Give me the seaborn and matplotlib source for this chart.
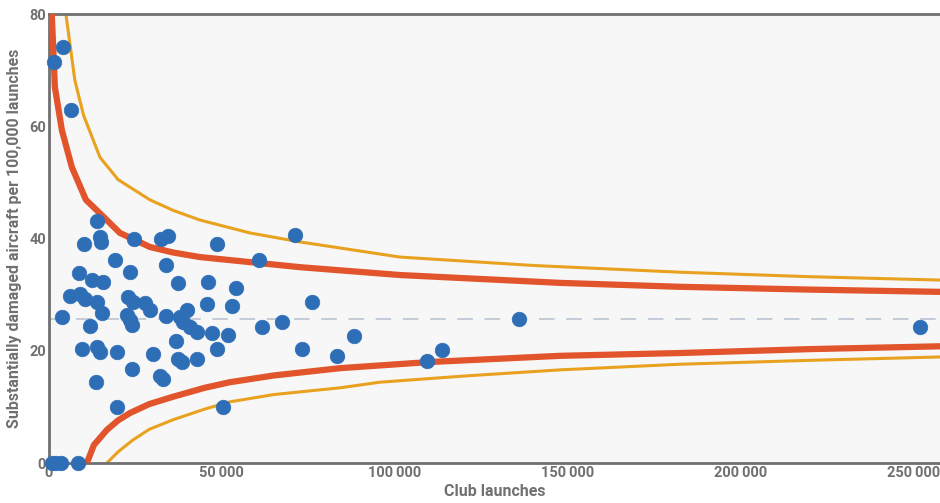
import numpy as np
import pandas as pd
import matplotlib.pyplot as plt
import matplotlib.ticker as mticker
import seaborn as sns

# club data: launches and damage rate per 100,000 launches
launches = [870, 2000, 3500, 8300,
            1450, 4140, 6260, 3660,
            13780, 10120, 14740, 14930, 24660, 32370, 34480, 48460,
            19080, 23410, 33720, 8670, 12330, 15510, 37190, 46050, 54050,
            6070, 8960, 10400, 13780, 15230, 11850,
            22930, 24370, 27750, 29190, 22450, 23410, 23890,
            33820, 37860, 39790, 38820, 40750, 42680, 45760, 52980,
            47020, 51820, 48650, 36610, 37380, 38340, 42680, 30150,
            9440, 13780, 14740, 19740, 23890, 32080, 33040, 13580,
            19560, 50200,
            71100, 60690, 75920, 67250, 61650, 88150, 73020, 83330,
            109150, 113490, 135930, 251730]
rate = [0, 0, 0, 0,
        71.5, 74.2, 62.9, 26.0,
        43.2, 39.1, 40.3, 39.4, 40.0, 40.0, 40.4, 39.1,
        36.2, 34.1, 35.3, 33.9, 32.6, 32.3, 32.0, 32.3, 31.2,
        29.8, 30.2, 29.3, 28.7, 26.7, 24.4,
        29.6, 28.7, 28.5, 27.3, 26.4, 25.5, 24.6,
        26.2, 26.1, 27.3, 25.2, 24.3, 23.4, 28.3, 28.0,
        23.2, 22.8, 20.4, 21.8, 18.6, 18.0, 18.6, 19.5,
        20.4, 20.7, 19.8, 19.8, 16.7, 15.5, 14.9, 14.5,
        10.0, 9.9,
        40.7, 36.2, 28.7, 25.1, 24.2, 22.6, 20.3, 19.1,
        18.2, 20.1, 25.6, 24.3]

mean_rate = 25.7

# control limits
upper_inner_x = [400, 870, 1730, 3760, 6650, 10700, 14740, 20520, 29190, 36000,
                 43640, 58090, 72540, 101450, 147700, 182370, 220000, 257500]
upper_inner_y = [95, 79.5, 67.0, 59.3, 52.7, 46.9, 44.5, 41.0, 38.5, 37.5,
                 36.7, 35.8, 34.9, 33.5, 32.1, 31.4, 30.9, 30.5]
upper_outer_x = [3500, 4910, 7510, 10000, 12720, 14740, 20000, 29190, 36000,
                 43640, 58090, 72540, 101450, 140000, 182370, 220000, 257500]
upper_outer_y = [90, 80, 68.2, 62.0, 57.7, 54.5, 50.5, 46.9, 45.0,
                 43.3, 41.0, 39.4, 36.7, 35.2, 34.0, 33.2, 32.6]
lower_inner_x = [10980, 13000, 16760, 20000, 23410, 29000, 35840, 45000, 52300,
                 65000, 84100, 110100, 147700, 182370, 220000, 257500]
lower_inner_y = [0, 3.2, 5.9, 7.6, 8.9, 10.5, 11.8, 13.4, 14.4,
                 15.6, 16.9, 18.0, 19.1, 19.6, 20.3, 20.8]
lower_outer_x = [16760, 20000, 24280, 29000, 35840, 45000, 52300, 65000, 84100,
                 95660, 120000, 147700, 182370, 220000, 257500]
lower_outer_y = [0, 2.0, 4.1, 6.0, 7.7, 9.6, 10.9, 12.2, 13.4,
                 14.4, 15.5, 16.6, 17.6, 18.3, 18.9]

df = pd.DataFrame({"launches": launches, "rate": rate})

sns.set_style("white")
plt.rcParams["font.family"] = ["Liberation Sans Narrow", "Roboto", "DejaVu Sans"]

fig = plt.figure(figsize=(9.4, 5.03), dpi=100)
ax = fig.add_axes([0.052, 0.0795, 0.948, 0.8925])
ax.set_facecolor("#f7f7f7")

ax.axhline(mean_rate, color="#c3cbd8", lw=1.4, ls=(0, (8, 6)), zorder=1)

sns.lineplot(x=upper_outer_x, y=upper_outer_y, ax=ax, color="#e8a21f",
             lw=2.2, sort=False, estimator=None, zorder=2)
sns.lineplot(x=lower_outer_x, y=lower_outer_y, ax=ax, color="#e8a21f",
             lw=2.2, sort=False, estimator=None, zorder=2)
sns.lineplot(x=upper_inner_x, y=upper_inner_y, ax=ax, color="#e2542b",
             lw=4.5, sort=False, estimator=None, zorder=3)
sns.lineplot(x=lower_inner_x, y=lower_inner_y, ax=ax, color="#e2542b",
             lw=4.5, sort=False, estimator=None, zorder=3)

sns.scatterplot(data=df, x="launches", y="rate", ax=ax, color="#2d6eb6",
                s=110, edgecolor="#2d6eb6", linewidth=0.5, zorder=4,
                clip_on=False)

ax.set_xlim(0, 257500)
ax.set_ylim(0, 80)
ax.set_xticks([0, 50000, 100000, 150000, 200000, 250000])
ax.set_yticks([0, 20, 40, 60, 80])
ax.xaxis.set_major_formatter(mticker.FuncFormatter(
    lambda v, p: f"{int(v):,}".replace(",", "\u2009")))
ax.tick_params(length=0, labelsize=10.5, labelcolor="#707070", pad=2)
for lab in ax.get_xticklabels() + ax.get_yticklabels():
    lab.set_fontweight("bold")

for side in ["left", "bottom", "top"]:
    ax.spines[side].set_color("#707070")
    ax.spines[side].set_linewidth(2)
ax.spines["right"].set_visible(False)

ax.set_xlabel("Club launches", fontsize=11.5, color="#707070",
              fontweight="bold", labelpad=3)
ax.set_ylabel("Substantially damaged aircraft per 100,000 launches",
              fontsize=11.5, color="#707070", fontweight="bold", labelpad=5)

fig.savefig("out.png", dpi=100, facecolor="white")
